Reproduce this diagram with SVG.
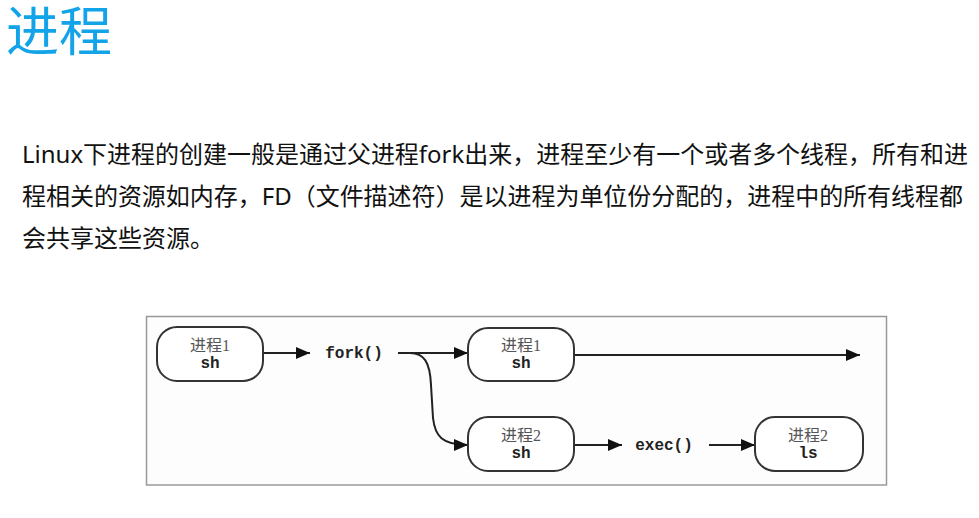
<svg xmlns="http://www.w3.org/2000/svg" width="979" height="518" viewBox="0 0 979 518">
<defs>
<style>
.title{font-family:"Noto Sans CJK SC","Noto Sans",sans-serif;font-size:53px;fill:#12a3e8}
.body{font-family:"Noto Sans","Noto Sans CJK SC",sans-serif;font-size:24px;fill:#111}
.node rect{fill:#fff;stroke:#333;stroke-width:2}
.cn{font-family:"Liberation Serif","Noto Sans CJK SC",serif;font-size:16px;fill:#555;text-anchor:middle}
.mono{font-family:"Liberation Mono","DejaVu Sans Mono",monospace;font-size:16px;font-weight:bold;fill:#222;text-anchor:middle}
.conn{fill:none;stroke:#222;stroke-width:2}
</style>
<marker id="ah" viewBox="0 0 14 12" refX="14" refY="6" markerWidth="14" markerHeight="12" markerUnits="userSpaceOnUse" orient="auto"><path d="M0,0 L14,6 L0,12 z" fill="#111"/></marker>
</defs>
<rect width="979" height="518" fill="#fff"/>
<text class="title" x="6" y="51">进程</text>
<text class="body" x="22" y="163" textLength="946" lengthAdjust="spacing">Linux下进程的创建一般是通过父进程fork出来，进程至少有一个或者多个线程，所有和进</text>
<text class="body" x="22" y="205" textLength="941" lengthAdjust="spacing">程相关的资源如内存，FD（文件描述符）是以进程为单位份分配的，进程中的所有线程都</text>
<text class="body" x="22" y="247">会共享这些资源。</text>
<rect x="146.5" y="316.5" width="740" height="168.5" fill="#fdfdfd" stroke="#999" stroke-width="1.5"/>
<g id="connectors">
<path class="conn" d="M263,353 H310" marker-end="url(#ah)"/>
<path class="conn" d="M398,353 H468" marker-end="url(#ah)"/>
<path class="conn" d="M410,353 C424,353 430,362 431,385 L433,418 C435,436 442,445 468,445" marker-end="url(#ah)"/>
<path class="conn" d="M574,355 H860" marker-end="url(#ah)"/>
<path class="conn" d="M574,445 H622" marker-end="url(#ah)"/>
<path class="conn" d="M709,445 H755" marker-end="url(#ah)"/>
</g>
<g id="node-p1-sh" class="node">
<rect x="157" y="327" width="106" height="54" rx="20"/>
<text class="cn" x="210" y="351">进程1</text>
<text class="mono" x="210" y="368">sh</text>
</g>
<g id="label-fork">
<text class="mono" x="354" y="358">fork()</text>
</g>
<g id="node-p1-sh-b" class="node">
<rect x="468" y="328" width="106" height="53" rx="20"/>
<text class="cn" x="521" y="351">进程1</text>
<text class="mono" x="521" y="368">sh</text>
</g>
<g id="node-p2-sh" class="node">
<rect x="468" y="417" width="106" height="54" rx="20"/>
<text class="cn" x="521" y="441">进程2</text>
<text class="mono" x="521" y="458">sh</text>
</g>
<g id="label-exec">
<text class="mono" x="664" y="450">exec()</text>
</g>
<g id="node-p2-ls" class="node">
<rect x="755" y="417" width="108" height="54" rx="20"/>
<text class="cn" x="808" y="441">进程2</text>
<text class="mono" x="808" y="458">ls</text>
</g>
</svg>
